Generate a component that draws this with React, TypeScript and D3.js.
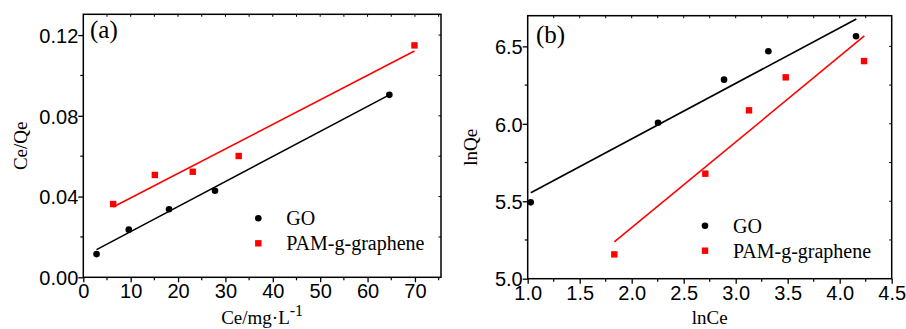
import * as d3 from "d3";
import { useEffect, useRef } from "react";

// panel (a): Langmuir
const goCeA = [2.8, 9.6, 18.1, 27.8, 64.6];
const goRatioA = [0.0115, 0.0236, 0.0337, 0.0429, 0.0904];
const pamCeA = [6.3, 15.1, 23.1, 32.8, 69.9];
const pamRatioA = [0.0363, 0.0507, 0.0523, 0.0601, 0.1149];
const goFitA = [[2.8, 0.0137], [64.6, 0.0904]];
const pamFitA = [[6.3, 0.0348], [69.9, 0.1121]];

// panel (b): Freundlich
const goLnCe = [1.029, 2.253, 2.888, 3.314, 4.157];
const goLnQe = [5.493, 6.007, 6.285, 6.468, 6.565];
const pamLnCe = [1.833, 2.708, 3.128, 3.481, 4.234];
const pamLnQe = [5.157, 5.678, 6.087, 6.3, 6.405];
const goFitB = [[1.03, 5.555], [4.16, 6.677]];
const pamFitB = [[1.833, 5.237], [4.237, 6.567]];

const xTicksA = [0, 10, 20, 30, 40, 50, 60, 70];
const yTicksA = [0, 0.04, 0.08, 0.12];
const xTicksB = [1.0, 1.5, 2.0, 2.5, 3.0, 3.5, 4.0, 4.5];
const yTicksB = [5.0, 5.5, 6.0, 6.5];
const legendNames = ["GO", "PAM-g-graphene"];

const RED = "#ff0000";
const serif = "'Liberation Serif', 'Times New Roman', serif";
const sans = "'Liberation Sans', Arial, sans-serif";

interface PanelOpts {
    box: { x0: number; x1: number; y0: number; y1: number };
    xDomain: [number, number];
    yDomain: [number, number];
    xTicks: number[];
    yTicks: number[];
    xMinor: number[];
    yMinor: number[];
    xFmt: (d: number) => string;
    yFmt: (d: number) => string;
    go: [number[], number[]];
    pam: [number[], number[]];
    goFit: number[][];
    pamFit: number[][];
    tag: string;
    tagPos: [number, number];
    legendPos: [number, number];
    yLabel: string;
    yLabelX: number;
    xLabel: (g: d3.Selection<SVGTextElement, unknown, null, undefined>) => void;
}

function drawPanel(svg: d3.Selection<SVGSVGElement, unknown, null, undefined>, o: PanelOpts) {
    const { x0, x1, y0, y1 } = o.box;
    const x = d3.scaleLinear().domain(o.xDomain).range([x0, x1]);
    const y = d3.scaleLinear().domain(o.yDomain).range([y1, y0]);
    const g = svg.append("g");

    // minor ticks
    g.selectAll(null).data(o.xMinor).enter().append("line")
        .attr("x1", (d) => x(d)).attr("x2", (d) => x(d))
        .attr("y1", y1).attr("y2", y1 + 3)
        .attr("stroke", "#000").attr("stroke-width", 1.2);
    g.selectAll(null).data(o.yMinor).enter().append("line")
        .attr("y1", (d) => y(d)).attr("y2", (d) => y(d))
        .attr("x1", x0).attr("x2", x0 - 3)
        .attr("stroke", "#000").attr("stroke-width", 1.2);

    // inner ticks on top and right
    g.selectAll(null).data([...o.xTicks, ...o.xMinor].filter((d) => d > o.xDomain[0] && d < o.xDomain[1])).enter().append("line")
        .attr("x1", (d) => x(d)).attr("x2", (d) => x(d))
        .attr("y1", y0).attr("y2", y0 + 2.5)
        .attr("stroke", "#000").attr("stroke-width", 1);
    g.selectAll(null).data([...o.yTicks, ...o.yMinor].filter((d) => d > o.yDomain[0] && d < o.yDomain[1])).enter().append("line")
        .attr("y1", (d) => y(d)).attr("y2", (d) => y(d))
        .attr("x1", x1).attr("x2", x1 - 2.5)
        .attr("stroke", "#000").attr("stroke-width", 1);

    const xAxis = g.append("g")
        .attr("transform", `translate(0,${y1})`)
        .call(d3.axisBottom(x).tickValues(o.xTicks).tickFormat((d) => o.xFmt(+d)).tickSize(5).tickSizeOuter(0));
    xAxis.select(".domain").remove();
    xAxis.selectAll(".tick line").attr("stroke-width", 1.3);
    xAxis.selectAll(".tick text").attr("font-family", sans).attr("font-size", 20).attr("fill", "#000").attr("dy", "0.66em");

    const yAxis = g.append("g")
        .attr("transform", `translate(${x0},0)`)
        .call(d3.axisLeft(y).tickValues(o.yTicks).tickFormat((d) => o.yFmt(+d)).tickSize(5).tickSizeOuter(0));
    yAxis.select(".domain").remove();
    yAxis.selectAll(".tick line").attr("stroke-width", 1.3);
    yAxis.selectAll(".tick text").attr("font-family", sans).attr("font-size", 20).attr("fill", "#000").attr("x", -5).attr("dy", "0.36em");

    g.append("rect")
        .attr("x", x0).attr("y", y0).attr("width", x1 - x0).attr("height", y1 - y0)
        .attr("fill", "none").attr("stroke", "#000").attr("stroke-width", 1.5);

    const line = d3.line<number[]>().x((d) => x(d[0])).y((d) => y(d[1]));
    g.append("path").attr("d", line(o.goFit)).attr("stroke", "#000").attr("stroke-width", 1.6).attr("fill", "none");
    g.append("path").attr("d", line(o.pamFit)).attr("stroke", RED).attr("stroke-width", 1.6).attr("fill", "none");

    g.selectAll(null).data(o.go[0]).enter().append("circle")
        .attr("cx", (d) => x(d)).attr("cy", (_d, i) => y(o.go[1][i])).attr("r", 3.3).attr("fill", "#000");
    g.selectAll(null).data(o.pam[0]).enter().append("rect")
        .attr("x", (d) => x(d) - 3.2).attr("y", (_d, i) => y(o.pam[1][i]) - 3.2)
        .attr("width", 6.4).attr("height", 6.4).attr("fill", RED);

    g.append("text").attr("x", o.tagPos[0]).attr("y", o.tagPos[1])
        .attr("font-family", serif).attr("font-size", 25).text(o.tag);

    const [lx, ly] = o.legendPos;
    g.append("circle").attr("cx", lx).attr("cy", ly).attr("r", 3.3).attr("fill", "#000");
    g.append("rect").attr("x", lx - 3.2).attr("y", ly + 25 - 3.2).attr("width", 6.4).attr("height", 6.4).attr("fill", RED);
    g.selectAll(null).data(legendNames).enter().append("text")
        .attr("x", lx + 28).attr("y", (_d, i) => ly + i * 25)
        .attr("dy", "0.35em")
        .attr("font-family", serif).attr("font-size", 20).text((d) => d);

    g.append("text")
        .attr("transform", `translate(${o.yLabelX},${(y0 + y1) / 2}) rotate(-90)`)
        .attr("text-anchor", "middle")
        .attr("font-family", serif).attr("font-size", 19).text(o.yLabel);

    const xl = g.append("text")
        .attr("x", (x0 + x1) / 2).attr("y", 324)
        .attr("text-anchor", "middle")
        .attr("font-family", serif).attr("font-size", 19);
    o.xLabel(xl);
}

const range = (a: number, b: number, s: number) => d3.range(a, b + s / 2, s);

const App = () => {
    const ref = useRef<SVGSVGElement>(null);

    useEffect(() => {
        if (!ref.current) return;
        const svg = d3.select(ref.current);
        svg.selectAll("*").remove();

        drawPanel(svg, {
            box: { x0: 83.3, x1: 441, y0: 14.3, y1: 277.3 },
            xDomain: [0, 75.5],
            yDomain: [0, 0.1303],
            xTicks: xTicksA,
            yTicks: yTicksA,
            xMinor: range(5, 75, 10),
            yMinor: range(0.02, 0.12, 0.04),
            xFmt: (d) => String(d),
            yFmt: (d) => d3.format(".2f")(d),
            go: [goCeA, goRatioA],
            pam: [pamCeA, pamRatioA],
            goFit: goFitA,
            pamFit: pamFitA,
            tag: "(a)",
            tagPos: [90, 38],
            legendPos: [258.3, 218.3],
            yLabel: "Ce/Qe",
            yLabelX: 27,
            xLabel: (t) => {
                t.append("tspan").text("Ce/mg·L");
                t.append("tspan").attr("dy", -8).attr("font-size", 16).text("-1");
            },
        });

        drawPanel(svg, {
            box: { x0: 527.7, x1: 891.7, y0: 15.7, y1: 278.7 },
            xDomain: [1.0, 4.5],
            yDomain: [5.0, 6.698],
            xTicks: xTicksB,
            yTicks: yTicksB,
            xMinor: range(1.25, 4.25, 0.5),
            yMinor: range(5.25, 6.75, 0.5).filter((d) => d < 6.69),
            xFmt: (d) => d3.format(".1f")(d),
            yFmt: (d) => d3.format(".1f")(d),
            go: [goLnCe, goLnQe],
            pam: [pamLnCe, pamLnQe],
            goFit: goFitB,
            pamFit: pamFitB,
            tag: "(b)",
            tagPos: [536, 43],
            legendPos: [705, 225.7],
            yLabel: "lnQe",
            yLabelX: 477,
            xLabel: (t) => {
                t.text("lnCe");
            },
        });
    }, []);

    return (
        <svg
            ref={ref}
            width={906}
            height={329}
            style={{ position: "absolute", left: 0, top: 0, background: "#fff" }}
        />
    );
};

export default App;
